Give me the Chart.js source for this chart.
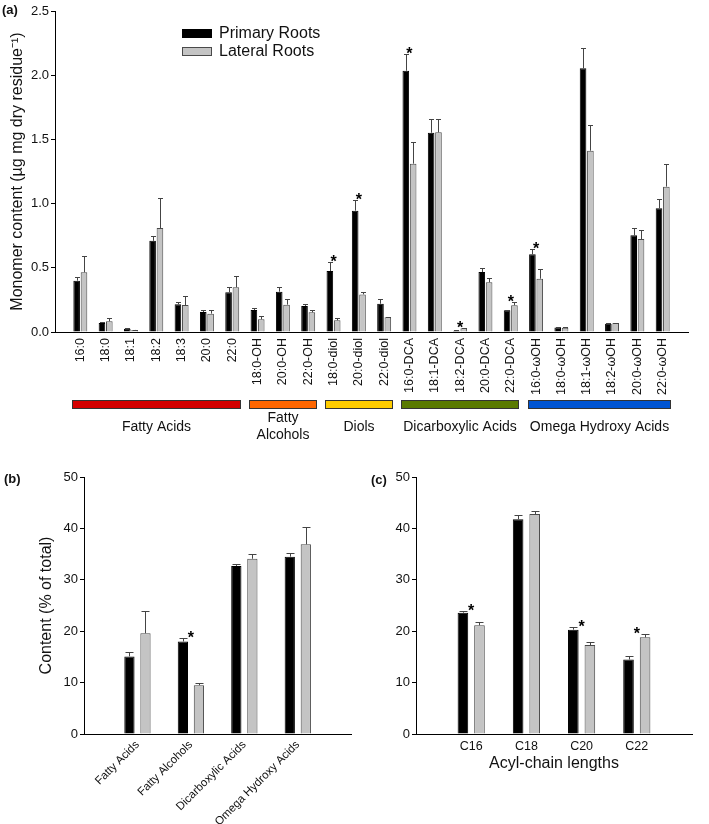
<!DOCTYPE html>
<html>
<head>
<meta charset="utf-8">
<script src="https://cdn.jsdelivr.net/npm/chart.js@4.4.0/dist/chart.umd.min.js"></script>
<style>
  body { margin: 0; background: #fff; width: 709px; height: 824px; position: relative; overflow: hidden; }
  canvas { position: absolute; }
</style>
</head>
<body>
<canvas id="chartA" width="709" height="450" style="left:0;top:0"></canvas>
<canvas id="chartB" width="365" height="374" style="left:0;top:450px"></canvas>
<canvas id="chartC" width="344" height="374" style="left:365px;top:450px"></canvas>
<script>
const FONT = "'Liberation Sans', Arial, sans-serif";
const INK = '#111';

// (a) monomer content per compound
const monomers = ['16:0', '18:0', '18:1', '18:2', '18:3', '20:0', '22:0',
  '18:0-OH', '20:0-OH', '22:0-OH',
  '18:0-diol', '20:0-diol', '22:0-diol',
  '16:0-DCA', '18:1-DCA', '18:2-DCA', '20:0-DCA', '22:0-DCA',
  '16:0-ωOH', '18:0-ωOH', '18:1-ωOH', '18:2-ωOH', '20:0-ωOH', '22:0-ωOH'];
const primaryA = [0.40, 0.07, 0.025, 0.71, 0.216, 0.156, 0.31,
  0.171, 0.314, 0.203,
  0.475, 0.945, 0.22,
  2.035, 1.552, 0.01, 0.467, 0.169,
  0.605, 0.036, 2.054, 0.065, 0.753, 0.963];
const primaryAErr = [0.03, 0.005, 0.003, 0.04, 0.014, 0.019, 0.038,
  0.019, 0.034, 0.017,
  0.068, 0.083, 0.037,
  0.128, 0.107, 0.002, 0.031, 0.004,
  0.041, 0.003, 0.16, 0.003, 0.059, 0.07];
const lateralA = [0.465, 0.083, 0.016, 0.81, 0.21, 0.143, 0.348,
  0.099, 0.213, 0.153,
  0.091, 0.293, 0.114,
  1.311, 1.555, 0.029, 0.387, 0.208,
  0.415, 0.034, 1.412, 0.07, 0.724, 1.132];
const lateralAErr = [0.125, 0.024, 0.002, 0.235, 0.073, 0.031, 0.086,
  0.028, 0.044, 0.019,
  0.016, 0.021, 0.003,
  0.166, 0.104, 0.003, 0.036, 0.028,
  0.078, 0.003, 0.2, 0.003, 0.07, 0.176];
const starsA = ['18:0-diol', '20:0-diol', '16:0-DCA', '18:2-DCA', '22:0-DCA', '16:0-ωOH'];
const groupNames = [['Fatty Acids'], ['Fatty', 'Alcohols'], ['Diols'], ['Dicarboxylic Acids'], ['Omega Hydroxy Acids']];
const groupSizes = [7, 3, 3, 5, 6];
const groupColors = ['#d40000', '#ff6600', '#ffcc00', '#5a7a00', '#0055d4'];

// (b) content per compound class
const classes = ['Fatty Acids', 'Fatty Alcohols', 'Dicarboxylic Acids', 'Omega Hydroxy Acids'];
const primaryB = [15.1, 18.0, 32.7, 34.5];
const primaryBErr = [0.85, 0.75, 0.35, 0.7];
const lateralB = [19.6, 9.5, 34.1, 36.9];
const lateralBErr = [4.3, 0.45, 0.9, 3.3];
const starsB = ['Fatty Alcohols'];

// (c) content per acyl-chain length
const chains = ['C16', 'C18', 'C20', 'C22'];
const primaryC = [23.6, 41.8, 20.3, 14.5];
const primaryCErr = [0.3, 0.85, 0.46, 0.6];
const lateralC = [21.15, 42.8, 17.3, 18.8];
const lateralCErr = [0.55, 0.6, 0.64, 0.66];
const starsC = ['C16', 'C20', 'C22'];

// an empty slot on each side, so the first and last pairs sit one step in from the axis ends
const pad = arr => [null, ...arr, null];
const padLabels = arr => [' ', ...arr, '  '];

function makeDatasets(p, pErr, l, lErr, cat, bar) {
  return [
    { label: 'Primary Roots', data: pad(p), err: pad(pErr), backgroundColor: '#000', borderColor: '#000',
      borderWidth: 1, categoryPercentage: cat, barPercentage: bar },
    { label: 'Lateral Roots', data: pad(l), err: pad(lErr), backgroundColor: '#c4c4c4', borderColor: '#4a4a4a',
      borderWidth: 1, categoryPercentage: cat, barPercentage: bar }
  ];
}

const extras = {
  id: 'extras',
  afterDatasetsDraw(chart, args, o) {
    const ctx = chart.ctx;
    const xs = chart.scales.x, ys = chart.scales.y;
    const tops = {};
    ctx.save();
    ctx.strokeStyle = '#444';
    ctx.lineWidth = 1;
    chart.data.datasets.forEach((ds, d) => {
      const meta = chart.getDatasetMeta(d);
      ds.data.forEach((v, i) => {
        if (v == null) return;
        const bx = Math.round(meta.data[i].x) + 0.5;
        const y0 = ys.getPixelForValue(v);
        const y1 = Math.round(ys.getPixelForValue(v + ds.err[i])) + 0.5;
        ctx.beginPath();
        ctx.moveTo(bx, y0);
        ctx.lineTo(bx, y1);
        ctx.moveTo(bx - o.cap / 2, y1);
        ctx.lineTo(bx + o.cap / 2, y1);
        ctx.stroke();
        tops[i] = Math.min(tops[i] === undefined ? Infinity : tops[i], y1);
      });
    });
    ctx.fillStyle = '#000';
    ctx.font = 'bold 16px ' + FONT;
    ctx.textAlign = 'center';
    ctx.textBaseline = 'alphabetic';
    o.stars.forEach(name => {
      const i = chart.data.labels.indexOf(name);
      ctx.fillText('*', xs.getPixelForValue(i), tops[i] + 4);
    });
    ctx.restore();
  },
  afterDraw(chart, args, o) {
    const ctx = chart.ctx;
    ctx.save();
    ctx.fillStyle = INK;
    ctx.textBaseline = 'middle';
    ctx.font = 'bold 13px ' + FONT;
    ctx.textAlign = 'left';
    ctx.fillText(o.letter[0], o.letter[1], o.letter[2]);

    if (o.legend) {
      const [lx, ly] = o.legend;
      ctx.font = '16px ' + FONT;
      chart.data.datasets.forEach((ds, d) => {
        const ry = ly + d * 18;
        ctx.fillStyle = ds.backgroundColor;
        ctx.fillRect(lx, ry, 30, 9);
        ctx.strokeStyle = ds.borderColor;
        ctx.strokeRect(lx + 0.5, ry + 0.5, 29, 8);
        ctx.fillStyle = INK;
        ctx.fillText(ds.label, lx + 37, ry + 5);
      });
    }

    if (o.groups) {
      const xs = chart.scales.x;
      let first = 1;
      ctx.font = '14px ' + FONT;
      ctx.textAlign = 'center';
      groupSizes.forEach((n, g) => {
        const x0 = Math.round(xs.getPixelForValue(first) - 8.5);
        const x1 = Math.round(xs.getPixelForValue(first + n - 1) + 8.5);
        ctx.fillStyle = groupColors[g];
        ctx.fillRect(x0, 400, x1 - x0, 9);
        ctx.strokeStyle = '#333';
        ctx.lineWidth = 1;
        ctx.strokeRect(x0 + 0.5, 400.5, x1 - x0 - 1, 8);
        ctx.fillStyle = INK;
        const lines = groupNames[g];
        const cy = 427 - (lines.length - 1) * 8.5;
        lines.forEach((t, k) => ctx.fillText(t, (x0 + x1) / 2, cy + k * 17));
        first += n;
      });
    }
    ctx.restore();
  }
};

function yAxis(max, step, width, titleText, titlePad, fontSize, digits) {
  return {
    min: 0, max: max,
    afterFit: s => { s.width = width; },
    ticks: { stepSize: step, padding: 2, color: INK, font: { family: FONT, size: fontSize },
      callback: v => v.toFixed(digits) },
    grid: { drawOnChartArea: false, drawTicks: true, tickLength: 4, color: '#000' },
    border: { color: '#000', width: 1 },
    title: { display: !!titleText, text: titleText, color: INK, font: { family: FONT, size: 16 },
      padding: { top: titlePad, bottom: 0 } }
  };
}

Chart.defaults.animation = false;
Chart.defaults.font.family = FONT;

new Chart(document.getElementById('chartA'), {
  type: 'bar',
  data: { labels: padLabels(monomers), datasets: makeDatasets(primaryA, primaryAErr, lateralA, lateralAErr, 0.58, 0.9) },
  options: {
    responsive: false,
    layout: { padding: { top: 11, right: 3, left: 0, bottom: 0 } },
    plugins: {
      legend: { display: false }, tooltip: { enabled: false },
      extras: { cap: 5, stars: starsA, letter: ['(a)', 2, 10], legend: [182, 29], groups: true }
    },
    scales: {
      x: {
        offset: false,
        afterFit: s => { s.height = 118; },
        grid: { display: false, drawTicks: false },
        border: { color: '#000', width: 1 },
        ticks: { autoSkip: false, minRotation: 90, maxRotation: 90, padding: 6, color: INK,
          font: { family: FONT, size: 12.5 } }
      },
      y: yAxis(2.5, 0.5, 55, 'Monomer content (µg mg dry residue⁻¹)', 8, 13, 1)
    }
  },
  plugins: [extras]
});

new Chart(document.getElementById('chartB'), {
  type: 'bar',
  data: { labels: padLabels(classes), datasets: makeDatasets(primaryB, primaryBErr, lateralB, lateralBErr, 0.6, 0.64) },
  options: {
    responsive: false,
    layout: { padding: { top: 27, right: 5, left: 0, bottom: 0 } },
    plugins: {
      legend: { display: false }, tooltip: { enabled: false },
      extras: { cap: 8, stars: starsB, letter: ['(b)', 4, 29] }
    },
    scales: {
      x: {
        offset: false,
        afterFit: s => { s.height = 90; },
        grid: { display: false, drawTicks: false },
        border: { color: '#000', width: 1 },
        ticks: { autoSkip: false, minRotation: 45, maxRotation: 45, padding: 4, color: INK,
          font: { family: FONT, size: 11.5 } }
      },
      y: yAxis(50, 10, 84, 'Content (% of total)', 37, 13, 0)
    }
  },
  plugins: [extras]
});

new Chart(document.getElementById('chartC'), {
  type: 'bar',
  data: { labels: padLabels(chains), datasets: makeDatasets(primaryC, primaryCErr, lateralC, lateralCErr, 0.6, 0.64) },
  options: {
    responsive: false,
    layout: { padding: { top: 27, right: 17, left: 0, bottom: 51 } },
    plugins: {
      legend: { display: false }, tooltip: { enabled: false },
      extras: { cap: 8, stars: starsC, letter: ['(c)', 6, 30] }
    },
    scales: {
      x: {
        offset: false,
        afterFit: s => { s.height = 39; },
        grid: { display: false, drawTicks: false },
        border: { color: '#000', width: 1 },
        ticks: { autoSkip: false, maxRotation: 0, padding: 5, color: INK,
          font: { family: FONT, size: 12.5 } },
        title: { display: true, text: 'Acyl-chain lengths', color: INK, font: { family: FONT, size: 16 },
          padding: { top: 0, bottom: 0 } }
      },
      y: yAxis(50, 10, 51, '', 0, 13, 0)
    }
  },
  plugins: [extras]
});
</script>
</body>
</html>
